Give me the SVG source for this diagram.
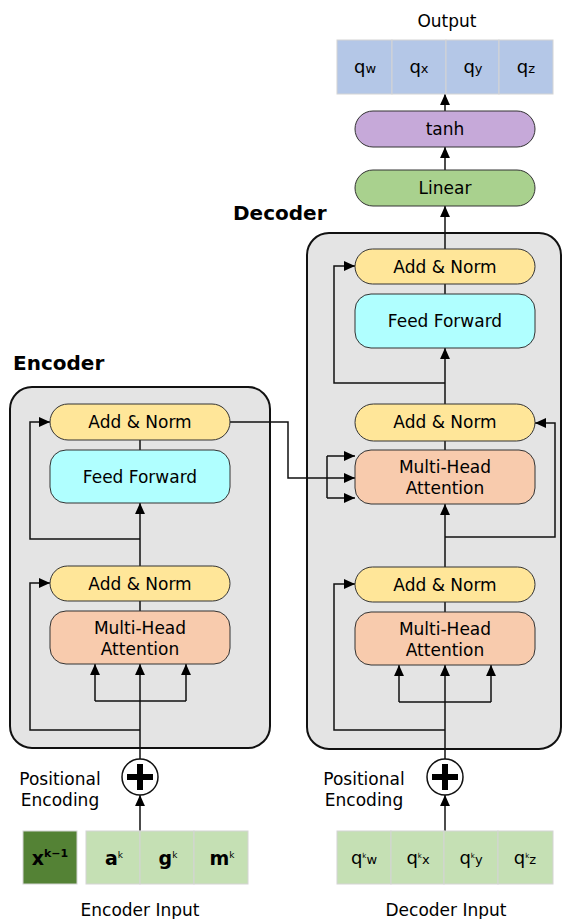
<svg xmlns="http://www.w3.org/2000/svg" width="563" height="919" viewBox="0 0 563 919">
  <defs>
    <marker id="arrow" viewBox="0 0 10 10" refX="10" refY="5" markerWidth="11" markerHeight="11" markerUnits="userSpaceOnUse" orient="auto">
      <path d="M0,0.5 L10,5 L0,9.5 Z" fill="#000"/>
    </marker>
    <style>
      text { font-family: "DejaVu Sans", Verdana, sans-serif; fill: #000; }
      .title { font-size: 20px; font-weight: bold; }
      .lbl { font-size: 17px; text-anchor: middle; }
      .cap { font-size: 17px; text-anchor: middle; }
      .block { fill: #e4e4e4; stroke: #111; stroke-width: 2; }
      .norm { fill: #ffe699; stroke: #333; stroke-width: 1; }
      .ff { fill: #b0ffff; stroke: #333; stroke-width: 1; }
      .mha { fill: #f8cbad; stroke: #333; stroke-width: 1; }
      .lin { fill: #a9d18e; stroke: #333; stroke-width: 1; }
      .tanh { fill: #c6a9d9; stroke: #333; stroke-width: 1; }
      .cell { fill: #c5e0b4; stroke: #d4d4d4; stroke-width: 1; }
      .cellx { fill: #548235; stroke: #d4d4d4; stroke-width: 1; }
      .outcell { fill: #b4c7e7; stroke: #d4d4d4; stroke-width: 1; }
      .wire { fill: none; stroke: #111; stroke-width: 1.5; }
      .arr { fill: none; stroke: #111; stroke-width: 1.5; marker-end: url(#arrow); }
      .sum { fill: #fff; stroke: #111; stroke-width: 1.5; }
      .plus { fill: #000; }
      .big { font-size: 19px; font-weight: bold; text-anchor: middle; }
      .q { font-size: 18px; text-anchor: middle; }
    </style>
  </defs>

  <!-- outer blocks -->
  <g id="encoder-block">
    <rect class="block" x="10" y="387" width="260" height="361" rx="22"/>
    <text class="title" x="13" y="370">Encoder</text>
  </g>
  <g id="decoder-block">
    <rect class="block" x="307" y="233" width="254" height="516" rx="22"/>
    <text class="title" x="233" y="220">Decoder</text>
  </g>

  <!-- connectors -->
  <g id="connectors">
    <!-- encoder -->
    <line class="arr" x1="140" y1="831" x2="140" y2="795"/>
    <line class="arr" x1="140" y1="759" x2="140" y2="664"/>
    <path class="wire" d="M95,701 H186"/>
    <line class="arr" x1="95" y1="701" x2="95" y2="664"/>
    <line class="arr" x1="186" y1="701" x2="186" y2="664"/>
    <path class="arr" d="M140,730 H30 V583 H50"/>
    <line class="wire" x1="140" y1="611" x2="140" y2="601"/>
    <line class="arr" x1="140" y1="566" x2="140" y2="503"/>
    <path class="arr" d="M140,539 H30 V422 H50"/>
    <line class="wire" x1="140" y1="450" x2="140" y2="440"/>
    <!-- encoder output to decoder cross attention -->
    <path class="arr" d="M230,422 H288 V478 H355"/>
    <path class="wire" d="M327,456 V498"/>
    <line class="arr" x1="327" y1="456" x2="355" y2="456"/>
    <line class="arr" x1="327" y1="498" x2="355" y2="498"/>
    <!-- decoder -->
    <line class="arr" x1="445" y1="831" x2="445" y2="795"/>
    <line class="arr" x1="445" y1="759" x2="445" y2="665"/>
    <path class="wire" d="M399,702 H491"/>
    <line class="arr" x1="399" y1="702" x2="399" y2="665"/>
    <line class="arr" x1="491" y1="702" x2="491" y2="665"/>
    <path class="arr" d="M445,730 H334 V584 H355"/>
    <line class="wire" x1="445" y1="612" x2="445" y2="602"/>
    <line class="arr" x1="445" y1="567" x2="445" y2="504"/>
    <path class="arr" d="M445,537 H555 V423 H535"/>
    <line class="wire" x1="445" y1="450" x2="445" y2="441"/>
    <line class="arr" x1="445" y1="404" x2="445" y2="348"/>
    <path class="arr" d="M445,383 H334 V266 H355"/>
    <line class="wire" x1="445" y1="294" x2="445" y2="284"/>
    <line class="arr" x1="445" y1="249" x2="445" y2="206"/>
    <line class="arr" x1="445" y1="170" x2="445" y2="147"/>
    <line class="arr" x1="445" y1="111" x2="445" y2="94"/>
  </g>

  <!-- encoder nodes -->
  <g id="enc-addnorm-top">
    <rect class="norm" x="50" y="404" width="180" height="36" rx="18"/>
    <text class="lbl" x="140" y="428">Add &amp; Norm</text>
  </g>
  <g id="enc-feedforward">
    <rect class="ff" x="50" y="450" width="180" height="53" rx="16"/>
    <text class="lbl" x="140" y="483">Feed Forward</text>
  </g>
  <g id="enc-addnorm-bottom">
    <rect class="norm" x="50" y="566" width="180" height="35" rx="17.5"/>
    <text class="lbl" x="140" y="590">Add &amp; Norm</text>
  </g>
  <g id="enc-attention">
    <rect class="mha" x="50" y="611" width="180" height="53" rx="16"/>
    <text class="lbl" x="140" y="634">Multi-Head</text>
    <text class="lbl" x="140" y="655">Attention</text>
  </g>
  <g id="enc-posenc">
    <circle class="sum" cx="140" cy="777" r="18"/>
    <path class="plus" d="M137,764 H143 V774 H153 V780 H143 V790 H137 V780 H127 V774 H137 Z"/>
    <text class="cap" x="60" y="785">Positional</text>
    <text class="cap" x="60" y="806">Encoding</text>
  </g>
  <g id="enc-input">
    <rect class="cellx" x="23" y="831" width="54" height="53"/>
    <rect class="cell" x="86" y="831" width="54" height="53"/>
    <rect class="cell" x="140" y="831" width="54" height="53"/>
    <rect class="cell" x="194" y="831" width="54" height="53"/>
    <text class="big" x="50" y="865">x<tspan style="font-size:11px" dy="-8">k−1</tspan></text>
    <text class="big" x="114" y="865">a<tspan style="font-size:9px;font-weight:normal" dy="-7">k</tspan></text>
    <text class="big" x="168" y="865">g<tspan style="font-size:9px;font-weight:normal" dy="-7">k</tspan></text>
    <text class="big" x="222" y="865">m<tspan style="font-size:9px;font-weight:normal" dy="-7">k</tspan></text>
    <text class="cap" x="140" y="916">Encoder Input</text>
  </g>

  <!-- decoder nodes -->
  <g id="dec-addnorm-top">
    <rect class="norm" x="355" y="249" width="180" height="35" rx="17.5"/>
    <text class="lbl" x="445" y="273">Add &amp; Norm</text>
  </g>
  <g id="dec-feedforward">
    <rect class="ff" x="355" y="294" width="180" height="54" rx="16"/>
    <text class="lbl" x="445" y="327">Feed Forward</text>
  </g>
  <g id="dec-addnorm-mid">
    <rect class="norm" x="355" y="404" width="180" height="37" rx="18.5"/>
    <text class="lbl" x="445" y="428">Add &amp; Norm</text>
  </g>
  <g id="dec-cross-attention">
    <rect class="mha" x="355" y="450" width="180" height="54" rx="16"/>
    <text class="lbl" x="445" y="473">Multi-Head</text>
    <text class="lbl" x="445" y="494">Attention</text>
  </g>
  <g id="dec-addnorm-bottom">
    <rect class="norm" x="355" y="567" width="180" height="35" rx="17.5"/>
    <text class="lbl" x="445" y="591">Add &amp; Norm</text>
  </g>
  <g id="dec-attention">
    <rect class="mha" x="355" y="612" width="180" height="53" rx="16"/>
    <text class="lbl" x="445" y="635">Multi-Head</text>
    <text class="lbl" x="445" y="656">Attention</text>
  </g>
  <g id="dec-posenc">
    <circle class="sum" cx="445" cy="777" r="18"/>
    <path class="plus" d="M442,764 H448 V774 H458 V780 H448 V790 H442 V780 H432 V774 H442 Z"/>
    <text class="cap" x="364" y="785">Positional</text>
    <text class="cap" x="364" y="806">Encoding</text>
  </g>
  <g id="dec-input">
    <rect class="cell" x="337" y="831" width="54" height="53"/>
    <rect class="cell" x="391" y="831" width="53" height="53"/>
    <rect class="cell" x="444" y="831" width="54" height="53"/>
    <rect class="cell" x="498" y="831" width="55" height="53"/>
    <text class="q" x="364" y="864">q<tspan style="font-size:7px" dy="-6">k</tspan><tspan style="font-size:13px" dy="6">w</tspan></text>
    <text class="q" x="418" y="864">q<tspan style="font-size:7px" dy="-6">k</tspan><tspan style="font-size:13px" dy="6">x</tspan></text>
    <text class="q" x="471" y="864">q<tspan style="font-size:7px" dy="-6">k</tspan><tspan style="font-size:13px" dy="6">y</tspan></text>
    <text class="q" x="525" y="864">q<tspan style="font-size:7px" dy="-6">k</tspan><tspan style="font-size:13px" dy="6">z</tspan></text>
    <text class="cap" x="446" y="916">Decoder Input</text>
  </g>

  <!-- output head -->
  <g id="linear">
    <rect class="lin" x="355" y="170" width="180" height="36" rx="18"/>
    <text class="lbl" x="445" y="194">Linear</text>
  </g>
  <g id="tanh">
    <rect class="tanh" x="355" y="111" width="180" height="36" rx="18"/>
    <text class="lbl" x="445" y="135">tanh</text>
  </g>
  <g id="output">
    <rect class="outcell" x="337" y="40" width="55" height="54"/>
    <rect class="outcell" x="392" y="40" width="54" height="54"/>
    <rect class="outcell" x="446" y="40" width="53" height="54"/>
    <rect class="outcell" x="499" y="40" width="54" height="54"/>
    <text class="q" x="365" y="73">q<tspan style="font-size:13px">w</tspan></text>
    <text class="q" x="419" y="73">q<tspan style="font-size:13px">x</tspan></text>
    <text class="q" x="473" y="73">q<tspan style="font-size:13px">y</tspan></text>
    <text class="q" x="526" y="73">q<tspan style="font-size:13px">z</tspan></text>
    <text class="cap" x="447" y="27">Output</text>
  </g>
</svg>
